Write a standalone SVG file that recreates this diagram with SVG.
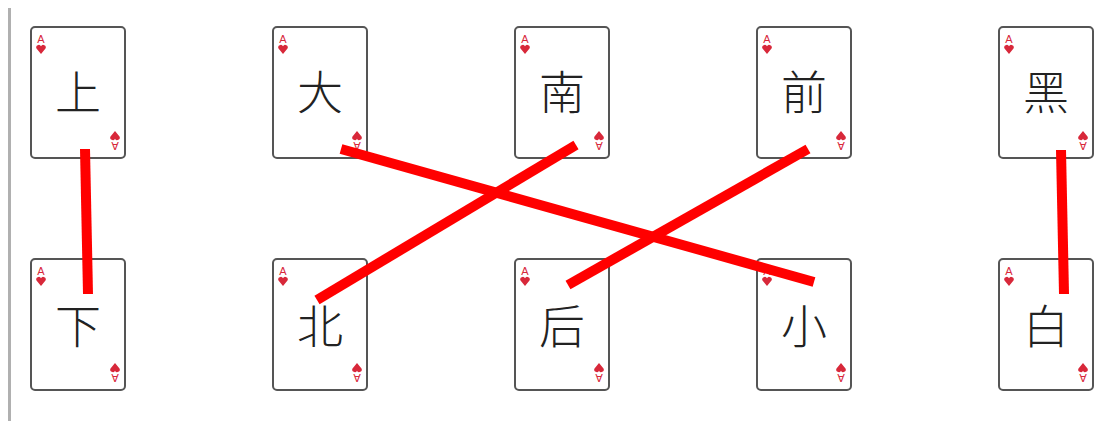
<svg xmlns="http://www.w3.org/2000/svg" width="1119" height="421" viewBox="0 0 1119 421">
<style>
.cb{fill:#fff;stroke:#555;stroke-width:2}
.ch{font-family:"Noto Sans CJK SC","Noto Sans CJK JP",sans-serif;font-size:46px;font-weight:300;fill:#222;text-anchor:middle}
.a{font-family:"Liberation Sans",sans-serif;font-size:11px;fill:#d8283a;text-anchor:middle}
.h{fill:#d8283a}
.ln{stroke:#ff0000;stroke-width:10;fill:none}
</style>
<defs>
<g id="idx">
<text class="a" x="0" y="0">A</text>
<path class="h" d="M0,11 L-4.5,5.5 A2.4,2.4 0 0 1 0,3.3 A2.4,2.4 0 0 1 4.5,5.5 Z"/>
</g>
<g id="cardbase">
<rect class="cb" x="0" y="0" width="94" height="131" rx="4" fill="#fff" stroke="#555" stroke-width="2"/>
<use href="#idx" x="10" y="16"/>
<use href="#idx" transform="translate(84,115) rotate(180)"/>
</g>
</defs>
<rect x="0" y="0" width="1119" height="421" fill="#fff"/>
<rect x="8" y="8" width="3" height="413" fill="#b0b0b0"/>
<g id="card-shang" transform="translate(31,27)"><use href="#cardbase"/><text class="ch" x="47" y="82">上</text></g>
<g id="card-da" transform="translate(273,27)"><use href="#cardbase"/><text class="ch" x="47" y="82">大</text></g>
<g id="card-nan" transform="translate(515,27)"><use href="#cardbase"/><text class="ch" x="47" y="82">南</text></g>
<g id="card-qian" transform="translate(757,27)"><use href="#cardbase"/><text class="ch" x="47" y="82">前</text></g>
<g id="card-hei" transform="translate(999,27)"><use href="#cardbase"/><text class="ch" x="47" y="82">黑</text></g>
<g id="card-xia" transform="translate(31,259)"><use href="#cardbase"/><text class="ch" x="47" y="84">下</text></g>
<g id="card-bei" transform="translate(273,259)"><use href="#cardbase"/><text class="ch" x="47" y="84">北</text></g>
<g id="card-hou" transform="translate(515,259)"><use href="#cardbase"/><text class="ch" x="47" y="84">后</text></g>
<g id="card-xiao" transform="translate(757,259)"><use href="#cardbase"/><text class="ch" x="47" y="84">小</text></g>
<g id="card-bai" transform="translate(999,259)"><use href="#cardbase"/><text class="ch" x="47" y="84">白</text></g>
<g id="connectors">
<line class="ln" x1="85" y1="149" x2="88" y2="294"/>
<line class="ln" x1="341" y1="149" x2="814" y2="282"/>
<line class="ln" x1="576" y1="145" x2="317" y2="300"/>
<line class="ln" x1="808" y1="149" x2="568" y2="285"/>
<line class="ln" x1="1061" y1="150" x2="1064" y2="294"/>
</g>
</svg>
